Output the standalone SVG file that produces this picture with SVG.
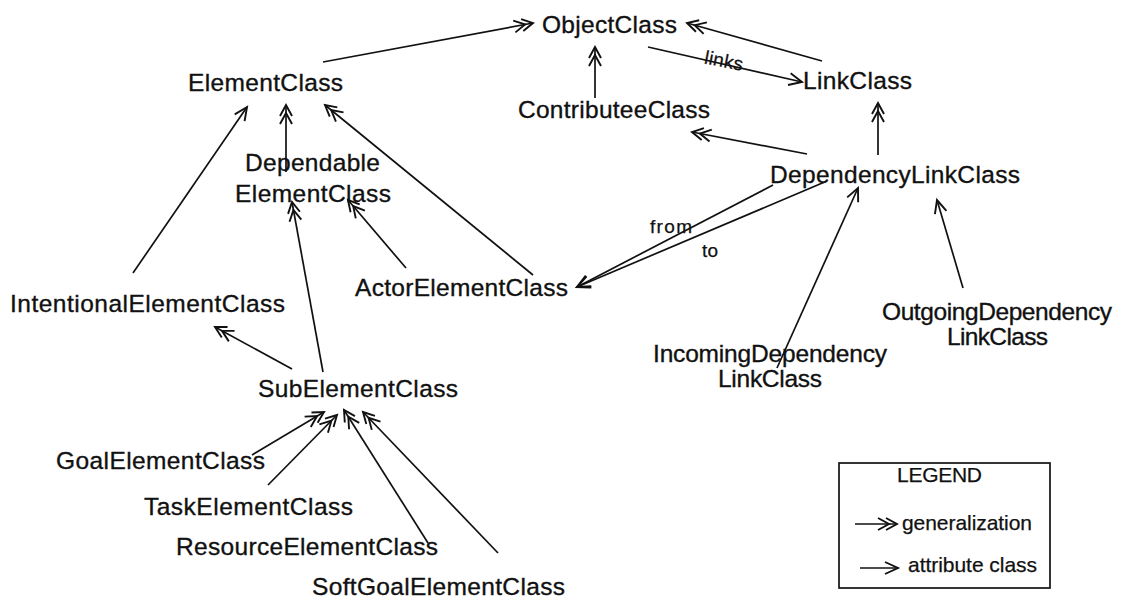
<svg xmlns="http://www.w3.org/2000/svg" width="1146" height="601" viewBox="0 0 1146 601">
<style>
.t{font-family:"Liberation Sans",Arial,sans-serif;font-size:24.5px;fill:#111;stroke:#111;stroke-width:0.35}
.s{font-family:"Liberation Sans",Arial,sans-serif;font-size:19px;fill:#111;stroke:#111;stroke-width:0.25}
.lg{font-family:"Liberation Sans",Arial,sans-serif;font-size:21px;fill:#111;stroke:#111;stroke-width:0.25}
.c line{stroke:#111;stroke-width:1.7;fill:none}
.g{marker-end:url(#gen)}
.a{marker-end:url(#attr)}
</style>
<defs>
<marker id="gen" markerUnits="userSpaceOnUse" viewBox="-24 -8 26 16" refX="0" refY="0" markerWidth="26" markerHeight="16" orient="auto" overflow="visible">
<path d="M-11,-6 L0,0 L-11,6 M-19,-6 L-8,0 L-19,6" fill="none" stroke="#111" stroke-width="1.9"/>
</marker>
<marker id="attr" markerUnits="userSpaceOnUse" viewBox="-24 -8 26 16" refX="0" refY="0" markerWidth="26" markerHeight="16" orient="auto" overflow="visible">
<path d="M-13,-6 L0,0 L-13,6" fill="none" stroke="#111" stroke-width="1.9"/>
</marker>
</defs>
<rect width="1146" height="601" fill="#fff"/>
<g id="connectors" class="c">
<line class="g" x1="323" y1="62" x2="533" y2="23"/>
<line class="g" x1="595" y1="98" x2="595" y2="47"/>
<line class="g" x1="822" y1="61" x2="687" y2="23"/>
<line class="g" x1="878" y1="155" x2="878" y2="103"/>
<line class="g" x1="807" y1="154" x2="692" y2="132"/>
<line class="g" x1="286" y1="172" x2="286" y2="105"/>
<line class="g" x1="533" y1="275" x2="325" y2="105"/>
<line class="g" x1="406" y1="268" x2="348" y2="200"/>
<line class="g" x1="323" y1="372" x2="292" y2="202"/>
<line class="g" x1="292" y1="369" x2="215" y2="327"/>
<line class="g" x1="252" y1="455" x2="324" y2="412"/>
<line class="g" x1="268" y1="485" x2="337" y2="415"/>
<line class="g" x1="428" y1="543" x2="344" y2="410"/>
<line class="g" x1="498" y1="553" x2="363" y2="412"/>
<line class="a" x1="133" y1="273" x2="247" y2="107"/>
<line class="a" x1="648" y1="47" x2="802" y2="82"/>
<line class="a" x1="773" y1="185" x2="577" y2="287"/>
<line class="a" x1="827" y1="181" x2="577" y2="287"/>
<line class="a" x1="777" y1="368" x2="858" y2="188"/>
<line class="a" x1="963" y1="288" x2="937" y2="200"/>
</g>
<g id="labels">
<text class="s" x="703" y="67" font-size="16" textLength="39" transform="rotate(11 722 68)">links</text>
<text class="s" x="650" y="233" textLength="42">from</text>
<text class="s" x="702" y="257" textLength="16">to</text>
</g>
<g id="ObjectClass"><text class="t" x="542" y="33" textLength="135">ObjectClass</text></g>
<g id="ElementClass"><text class="t" x="188" y="91" textLength="155">ElementClass</text></g>
<g id="ContributeeClass"><text class="t" x="518" y="118" textLength="192">ContributeeClass</text></g>
<g id="LinkClass"><text class="t" x="803" y="89" textLength="109">LinkClass</text></g>
<g id="DependencyLinkClass"><text class="t" x="770" y="183" textLength="250">DependencyLinkClass</text></g>
<g id="DependableElementClass"><text class="t" x="245" y="171" textLength="135">Dependable</text><text class="t" x="235" y="202" textLength="156">ElementClass</text></g>
<g id="ActorElementClass"><text class="t" x="355" y="296" textLength="213">ActorElementClass</text></g>
<g id="IntentionalElementClass"><text class="t" x="10" y="312" textLength="275">IntentionalElementClass</text></g>
<g id="SubElementClass"><text class="t" x="258" y="397" textLength="200">SubElementClass</text></g>
<g id="GoalElementClass"><text class="t" x="56" y="469" textLength="209">GoalElementClass</text></g>
<g id="TaskElementClass"><text class="t" x="144" y="515" textLength="209">TaskElementClass</text></g>
<g id="ResourceElementClass"><text class="t" x="176" y="555" textLength="262">ResourceElementClass</text></g>
<g id="SoftGoalElementClass"><text class="t" x="312" y="595" textLength="253">SoftGoalElementClass</text></g>
<g id="IncomingDependencyLinkClass"><text class="t" x="653" y="362" textLength="234">IncomingDependency</text><text class="t" x="718" y="387" textLength="104">LinkClass</text></g>
<g id="OutgoingDependencyLinkClass"><text class="t" x="882" y="320" textLength="230">OutgoingDependency</text><text class="t" x="947" y="345" textLength="101">LinkClass</text></g>
<g id="legend">
<rect x="839" y="463" width="211" height="125" fill="none" stroke="#111" stroke-width="1.7"/>
<text class="lg" x="897" y="482" font-size="20" textLength="85">LEGEND</text>
<line x1="855" y1="524" x2="897" y2="524" stroke="#111" stroke-width="1.7" marker-end="url(#gen)"/>
<text class="lg" x="902" y="530" textLength="130">generalization</text>
<line x1="860" y1="568" x2="898" y2="568" stroke="#111" stroke-width="1.7" marker-end="url(#attr)"/>
<text class="lg" x="908" y="572" textLength="129">attribute class</text>
</g>
</svg>
